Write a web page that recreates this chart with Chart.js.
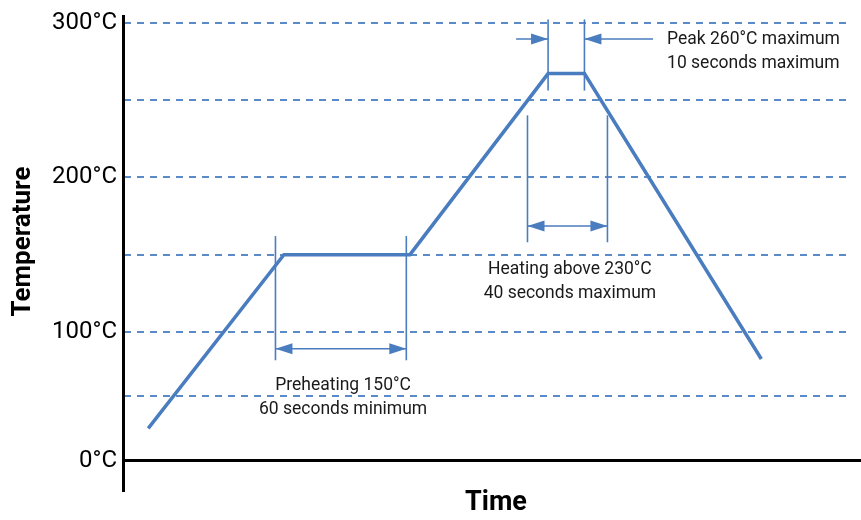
<!DOCTYPE html>
<html>
<head>
<meta charset="utf-8">
<script src="https://cdn.jsdelivr.net/npm/chart.js@4"></script>
<style>
  html, body { margin: 0; padding: 0; background: #ffffff; }
  #wrap { width: 861px; height: 520px; }
</style>
</head>
<body>
<div id="wrap"><canvas id="c" width="861" height="520" style="width:861px;height:520px"></canvas></div>
<script>
// ---- data (time in arbitrary units, temperature in °C) ----
const timeValues = [10, 66, 118, 175, 190, 263];
const tempValues = [25, 150, 150, 267, 267, 79];
const yTickValues = [0, 100, 200, 300];
const yTickLabels = ['0°C', '100°C', '200°C', '300°C'];

// annotation markers (vertical lines), arrows and labels, in data units
const markerLines = [
  { x: 62.5, y1: 78, y2: 162 }, { x: 116.5, y1: 78, y2: 162 },
  { x: 166.5, y1: 158, y2: 240 }, { x: 199.5, y1: 158, y2: 240 },
  { x: 175, y1: 256, y2: 302 }, { x: 190, y1: 256, y2: 302 }
];
const arrows = [
  { from: 62.5, to: 116.5, y: 87, both: true },
  { from: 166.5, to: 199.5, y: 168.5, both: true },
  { from: 161.8, to: 175, y: 289.3, both: false },
  { from: 218.3, to: 190, y: 289.3, both: false }
];
const noteLabels = [
  { x: 90.4, y: 58, align: 'center', lines: ['Preheating 150°C', '60 seconds minimum'] },
  { x: 184, y: 140, align: 'center', lines: ['Heating above 230°C', '40 seconds maximum'] },
  { x: 224.1, y: 288.7, align: 'left', lines: ['Peak 260°C maximum', '10 seconds maximum'] }
];

const BLUE = '#4a7dbf';
const GRID = '#5a8ac8';

// piecewise temperature axis (lower range compressed, as in the reference)
function warp(v) { return v <= 100 ? v * 0.88 : 88 + (v - 100) * 1.06; }
function unwarp(w) { return w <= 88 ? w / 0.88 : 100 + (w - 88) / 1.06; }
class WarpScale extends Chart.LinearScale {
  getPixelForValue(value) { return super.getPixelForValue(warp(value)); }
  getValueForPixel(pixel) { return unwarp(super.getValueForPixel(pixel)); }
}
WarpScale.id = 'warp';
WarpScale.defaults = Chart.LinearScale.defaults;
Chart.register(WarpScale);

const annotate = {
  id: 'annotate',
  afterDatasetsDraw(chart) {
    const { ctx, scales: { x, y } } = chart;
    ctx.save();
    // vertical marker lines
    ctx.strokeStyle = BLUE;
    ctx.lineWidth = 1.6;
    markerLines.forEach(m => {
      const px = x.getPixelForValue(m.x);
      ctx.beginPath();
      ctx.moveTo(px, y.getPixelForValue(m.y1));
      ctx.lineTo(px, y.getPixelForValue(m.y2));
      ctx.stroke();
    });
    // arrows
    const head = (tipX, py, dir) => {
      ctx.beginPath();
      ctx.moveTo(tipX, py);
      ctx.lineTo(tipX - dir * 17, py - 5.5);
      ctx.lineTo(tipX - dir * 17, py + 5.5);
      ctx.closePath();
      ctx.fill();
    };
    ctx.fillStyle = BLUE;
    arrows.forEach(a => {
      const x1 = x.getPixelForValue(a.from), x2 = x.getPixelForValue(a.to);
      const py = y.getPixelForValue(a.y);
      const dir = x2 > x1 ? 1 : -1;
      ctx.beginPath();
      ctx.moveTo(x1, py);
      ctx.lineTo(x2, py);
      ctx.stroke();
      head(x2, py, dir);
      if (a.both) head(x1, py, -dir);
    });
    // labels
    ctx.fillStyle = '#1a1a1a';
    ctx.font = '17.5px Roboto';
    ctx.textBaseline = 'middle';
    noteLabels.forEach(l => {
      ctx.textAlign = l.align;
      const px = x.getPixelForValue(l.x);
      const py = y.getPixelForValue(l.y);
      l.lines.forEach((t, i) => ctx.fillText(t, px, py + i * 23.5));
    });
    ctx.restore();
  },
  afterDraw(chart) {
    const { ctx, chartArea } = chart;
    ctx.save();
    ctx.strokeStyle = '#000';
    ctx.lineWidth = 3;
    ctx.beginPath();
    ctx.moveTo(123.5, 15);
    ctx.lineTo(123.5, 492);
    ctx.stroke();
    ctx.beginPath();
    ctx.moveTo(122, chartArea.bottom);
    ctx.lineTo(861, chartArea.bottom);
    ctx.stroke();
    // x axis title
    ctx.fillStyle = '#000';
    ctx.font = 'bold 27px Roboto';
    ctx.textAlign = 'center';
    ctx.textBaseline = 'middle';
    ctx.fillText('Time', 496, 503.5);
    ctx.restore();
  }
};

new Chart(document.getElementById('c'), {
  type: 'line',
  data: {
    datasets: [{
      data: timeValues.map((t, i) => ({ x: t, y: tempValues[i] })),
      borderColor: BLUE,
      borderWidth: 3.5,
      pointRadius: 0,
      tension: 0,
      fill: false,
      clip: false
    }]
  },
  options: {
    responsive: false,
    animation: false,
    events: [],
    layout: { padding: { top: 22.5, right: 10, left: 0, bottom: 0 } },
    plugins: { legend: { display: false }, tooltip: { enabled: false } },
    scales: {
      x: {
        type: 'linear',
        min: 0, max: 300,
        ticks: { display: false },
        grid: { display: false },
        border: { display: false },
        afterFit(s) { s.height = 59.5; }
      },
      y: {
        type: 'warp',
        min: 0, max: 300,
        afterBuildTicks(s) { s.ticks = [0, 50, 100, 150, 200, 250, 300].map(v => ({ value: v })); },
        ticks: {
          padding: 7,
          color: '#000',
          font: { family: 'Roboto', size: 24 },
          callback(v) { const i = yTickValues.indexOf(v); return i >= 0 ? yTickLabels[i] : ''; }
        },
        grid: {
          drawTicks: false,
          lineWidth: 2,
          color(ctx) { return ctx.tick && ctx.tick.value === 0 ? 'rgba(0,0,0,0)' : GRID; }
        },
        border: { display: false, dash: [7, 6] },
        title: {
          display: true,
          text: 'Temperature',
          color: '#000',
          font: { family: 'Roboto', size: 26, weight: 'bold' },
          padding: { top: 7.4, bottom: 0 }
        },
        afterFit(s) { s.width = 124; }
      }
    }
  },
  plugins: [annotate]
});
</script>
</body>
</html>
